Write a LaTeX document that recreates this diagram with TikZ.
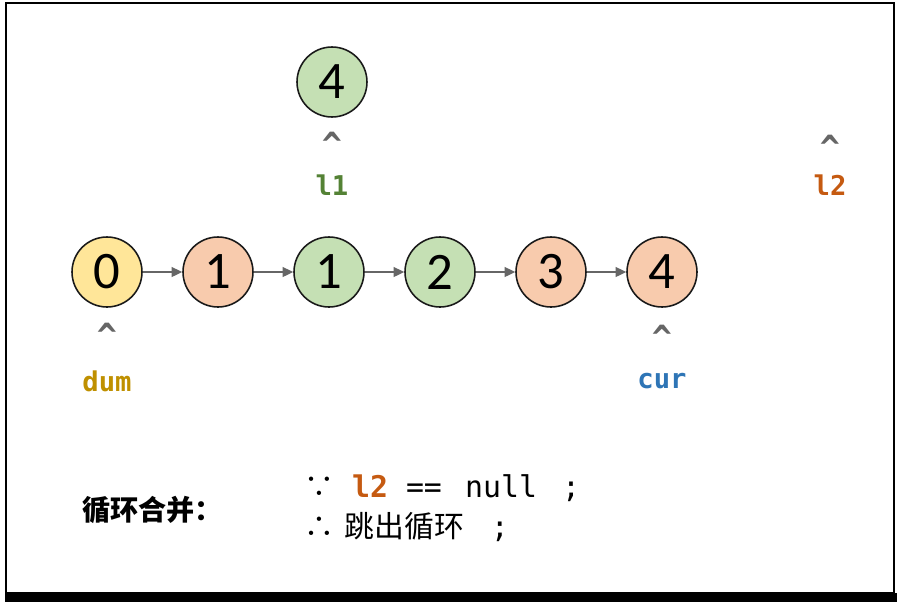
\documentclass[tikz,border=0pt]{standalone}
\usepackage{fontspec}
\setmainfont{Carlito}
\setmonofont{DejaVu Sans Mono}
\newfontfamily\cjk{Noto Sans CJK SC}
\usetikzlibrary{arrows.meta}
\definecolor{fillY}{HTML}{FFE699}
\definecolor{fillO}{HTML}{F8CBAD}
\definecolor{fillG}{HTML}{C5E0B4}
\definecolor{ptrGreen}{HTML}{548235}
\definecolor{ptrOrange}{HTML}{C55A11}
\definecolor{ptrGold}{HTML}{BF9000}
\definecolor{ptrBlue}{HTML}{2E75B6}
\begin{document}
\begin{tikzpicture}[x=0.02cm,y=-0.02cm,
  listnode/.style={circle,draw=black!90,line width=0.9pt,minimum size=1.4cm,inner sep=0pt,font=\fontsize{30}{30}\selectfont},
  nextarrow/.style={-{Triangle[length=6pt,width=5.5pt]},line width=1.2pt,draw=black!60,fill=black!60},
  caret/.style={font=\ttfamily\bfseries\fontsize{19}{19}\selectfont,text=black!60},
  ptr/.style={font=\ttfamily\bfseries\fontsize{15.5}{15.5}\selectfont}]
\useasboundingbox (0,0) rectangle (897,602);
% frame
\draw[line width=1.2pt] (6,3) rectangle (894,593);
\fill[black] (5,593) rectangle (897,602);
% merged list
\foreach \i/\v/\c in {0/0/fillY,1/1/fillO,2/1/fillG,3/2/fillG,4/3/fillO,5/4/fillO}
  \node[listnode,fill=\c] (n\i) at ({107+111*\i},272) {\v};
\foreach \i [count=\j] in {0,...,4}
  \draw[nextarrow] (n\i) -- (n\j);
\node[listnode,fill=fillG] (top4) at (332,82) {4};
% pointers
\node[caret] (c1) at (332,144) {\textasciicircum};
\node[ptr,text=ptrGreen] (l1) at (332,185) {l1};
\node[caret] (c2) at (830,147) {\textasciicircum};
\node[ptr,text=ptrOrange] (l2) at (830,185) {l2};
\node[caret] (c3) at (107,335) {\textasciicircum};
\node[ptr,text=ptrGold] (dum) at (107,381) {dum};
\node[caret] (c4) at (662,337) {\textasciicircum};
\node[ptr,text=ptrBlue] (cur) at (662,381) {cur};
% loop text
\node[anchor=west,font=\cjk\bfseries\fontsize{16}{16}\selectfont] (title) at (76,510) {循环合并：};
\node[anchor=west,font=\ttfamily\fontsize{17}{17}\selectfont] (cond) at (298,488) {{\cjk ∵} {\bfseries\color{ptrOrange}l2} == \kern3pt null \kern4pt;};
\node[anchor=west,font=\ttfamily\fontsize{17}{17}\selectfont] (res) at (298,527) {{\cjk ∴\kern6pt{}跳出循环}\kern5pt{} ;};
\end{tikzpicture}
\end{document}
